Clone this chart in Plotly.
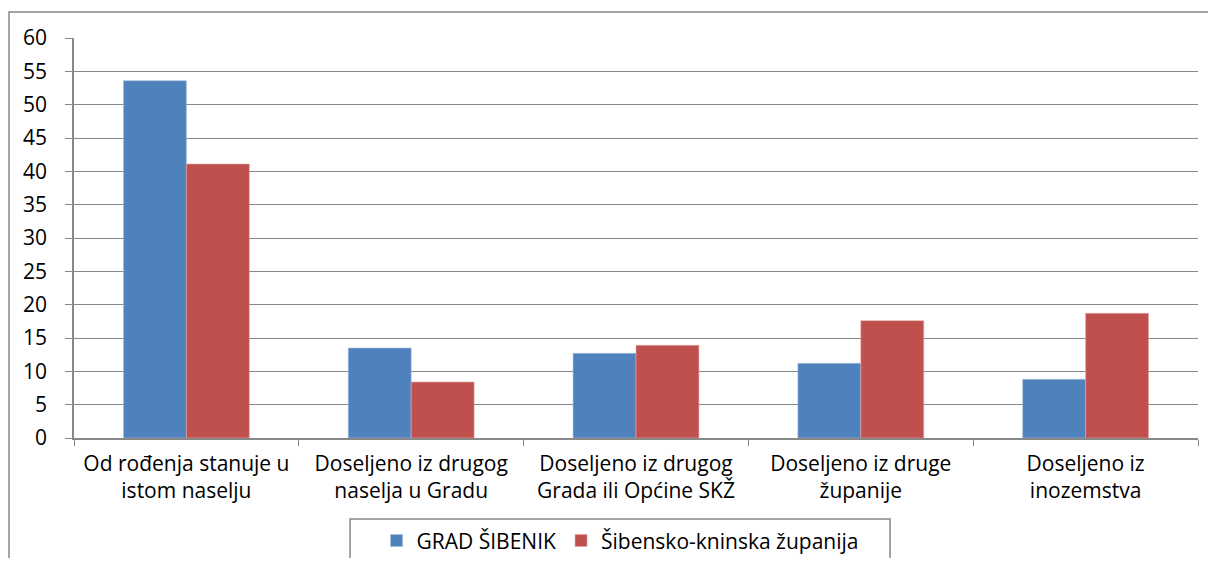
import plotly.graph_objects as go

categories = [
    "Od rođenja stanuje u<br>istom naselju",
    "Doseljeno iz drugog<br>naselja u Gradu",
    "Doseljeno iz drugog<br>Grada ili Općine SKŽ",
    "Doseljeno iz druge<br>županije",
    "Doseljeno iz<br>inozemstva",
]
grad_sibenik = [53.6, 13.5, 12.7, 11.2, 8.8]
zupanija = [41.1, 8.4, 13.9, 17.6, 18.7]
series_names = ["GRAD ŠIBENIK", "Šibensko-kninska županija"]

AXIS_GRAY = "#888888"
FONT = "Open Sans"
FS = 21

fig = go.Figure()
fig.add_trace(go.Bar(
    x=categories, y=grad_sibenik, name=series_names[0],
    marker=dict(color="#4F81BD", line=dict(color="#A7C0DE", width=0.6)),
))
fig.add_trace(go.Bar(
    x=categories, y=zupanija, name=series_names[1],
    marker=dict(color="#C0504D", line=dict(color="#E0A8A6", width=0.6)),
))

# outer chart frame (cropped on the right and bottom, as in the original)
fig.add_shape(
    type="rect", xref="paper", yref="paper",
    x0=-0.0578, x1=1.2, y0=-0.6, y1=1.065,
    line=dict(color=AXIS_GRAY, width=1.5),
    fillcolor="rgba(0,0,0,0)", layer="below",
)
# legend frame
fig.add_shape(
    type="rect", xref="paper", yref="paper",
    x0=0.2456, x1=0.726, y0=-0.303, y1=-0.2025,
    line=dict(color=AXIS_GRAY, width=1.5),
    fillcolor="rgba(0,0,0,0)", layer="below",
)

fig.update_layout(
    width=1200,
    height=550,
    margin=dict(l=66, r=10, t=30, b=120, autoexpand=False),
    paper_bgcolor="white",
    plot_bgcolor="white",
    barmode="group",
    bargap=0.44,
    bargroupgap=0,
    font=dict(family=FONT, color="#000000", size=FS),
    showlegend=True,
    legend=dict(
        orientation="h",
        x=0.4858, xanchor="center",
        yref="container",
        y=0.031, yanchor="middle",
        borderwidth=0,
        bgcolor="rgba(0,0,0,0)",
        font=dict(family=FONT, size=FS, color="#000000"),
        itemwidth=30,
    ),
    xaxis=dict(
        type="category",
        automargin=False,
        showgrid=False,
        showline=True,
        linecolor=AXIS_GRAY,
        linewidth=1.5,
        ticks="outside",
        tickson="boundaries",
        ticklen=6,
        tickcolor=AXIS_GRAY,
        ticklabelstandoff=6,
        tickfont=dict(family=FONT, size=FS, color="#000000"),
    ),
    yaxis=dict(
        range=[0, 60],
        dtick=5,
        automargin=False,
        showgrid=True,
        gridcolor=AXIS_GRAY,
        gridwidth=1.2,
        showline=True,
        linecolor=AXIS_GRAY,
        linewidth=1.5,
        ticks="outside",
        ticklen=7,
        tickcolor=AXIS_GRAY,
        ticklabelstandoff=14,
        zeroline=False,
        tickfont=dict(family=FONT, size=FS, color="#000000"),
    ),
)

fig.write_html("out.html")
